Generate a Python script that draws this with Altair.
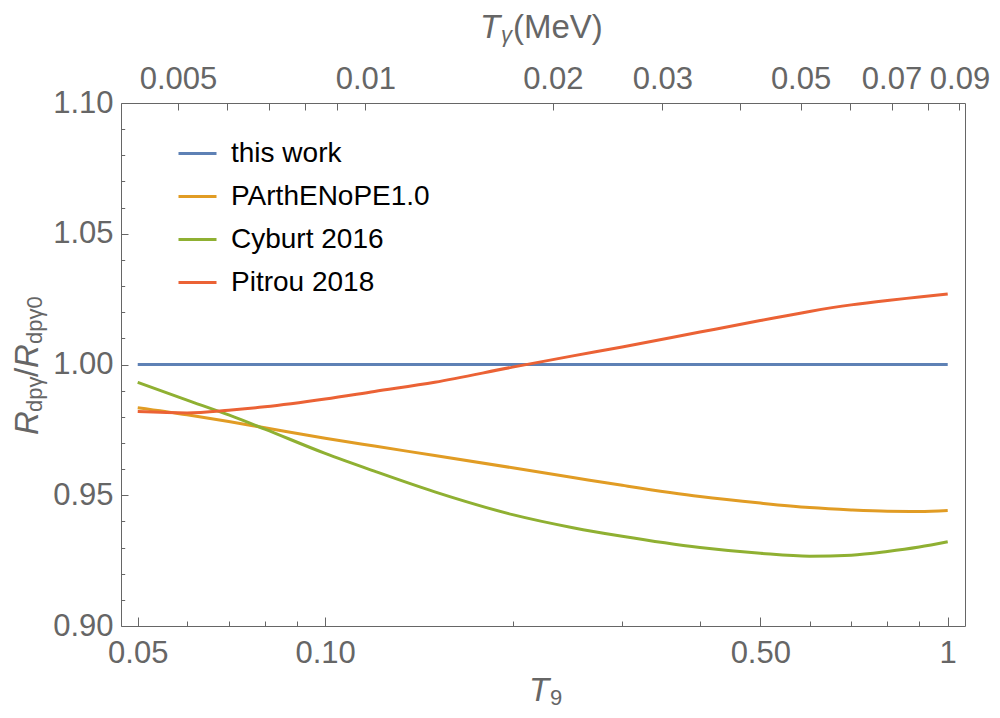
import json
import altair as alt
import pandas as pd

# ---------------- data ----------------
T9 = [0.05, 0.06, 0.07, 0.08, 0.10, 0.12, 0.15, 0.20, 0.25, 0.30,
      0.40, 0.50, 0.60, 0.70, 0.80, 0.90, 1.00]
this_work = [1.000, 1.000, 1.000, 1.000, 1.000, 1.000, 1.000, 1.000, 1.000,
             1.000, 1.000, 1.000, 1.000, 1.000, 1.000, 1.000, 1.000]
parthenope = [0.9835, 0.9808, 0.9782, 0.9758, 0.9718, 0.9688, 0.9652, 0.9605,
              0.9568, 0.9538, 0.9495, 0.9470, 0.9453, 0.9444, 0.9439, 0.9438, 0.9442]
cyburt = [0.9932, 0.9864, 0.9807, 0.9753, 0.9660, 0.9592, 0.9513, 0.9426,
          0.9376, 0.9343, 0.9300, 0.9278, 0.9267, 0.9271, 0.9285, 0.9302, 0.9322]
pitrou = [0.9820, 0.9815, 0.9825, 0.9838, 0.9868, 0.9897, 0.9932, 0.9990,
          1.0033, 1.0067, 1.0124, 1.0168, 1.0203, 1.0228, 1.0245, 1.0258, 1.0270]

series_names = ["this work", "PArthENoPE1.0", "Cyburt 2016", "Pitrou 2018"]
series_colors = ["#5E81B5", "#E19C24", "#8FB032", "#EB6235"]
series_values = [this_work, parthenope, cyburt, pitrou]

bottom_major = [0.05, 0.1, 0.5, 1.0]
bottom_minor = [0.06, 0.07, 0.08, 0.09, 0.2, 0.3, 0.4, 0.6, 0.7, 0.8, 0.9]
left_major = [0.90, 0.95, 1.00, 1.05, 1.10]
left_minor = [0.91, 0.92, 0.93, 0.94, 0.96, 0.97, 0.98, 0.99,
              1.01, 1.02, 1.03, 1.04, 1.06, 1.07, 1.08, 1.09]
top_ticks = [0.005, 0.006, 0.007, 0.008, 0.009, 0.01, 0.02, 0.03,
             0.04, 0.05, 0.06, 0.07, 0.08, 0.09]
top_labeled = [0.005, 0.01, 0.02, 0.03, 0.05, 0.07, 0.09]

MEV_PER_T9 = 0.08617          # k_B * 1e9 K in MeV
T9_DOMAIN = [0.047, 1.066]
TG_DOMAIN = [T9_DOMAIN[0] * MEV_PER_T9, T9_DOMAIN[1] * MEV_PER_T9]
Y_DOMAIN = [0.90, 1.10]

# ---------------- styling ----------------
FONT = "Liberation Sans"
GRAY = "#666666"
W, H = 844, 523
TICK_FS = 31
TITLE_FS = 33
SUB_FS = 22

rows = []
for name, vals in zip(series_names, series_values):
    for t, v in zip(T9, vals):
        rows.append({"T9": t, "R": v, "series": name})
df = pd.DataFrame(rows)

xscale = alt.Scale(type="log", domain=T9_DOMAIN, nice=False)
yscale = alt.Scale(domain=Y_DOMAIN, nice=False, zero=False)

common_axis = dict(grid=False, domain=False, title=None, labelFont=FONT,
                   labelColor=GRAY, tickColor=GRAY, tickWidth=1,
                   labelOverlap=False, labelBound=False, labelFlush=False,
                   labelFontSize=TICK_FS)

lines = alt.Chart(df).mark_line(strokeWidth=3, interpolate="monotone").encode(
    x=alt.X("T9:Q", scale=xscale,
            axis=alt.Axis(orient="bottom", values=bottom_major,
                          labelExpr="datum.value >= 1 ? '1' : format(datum.value, '.2f')",
                          tickSize=9, offset=-9, labelPadding=12, **common_axis)),
    y=alt.Y("R:Q", scale=yscale,
            axis=alt.Axis(orient="left", values=left_major, format=".2f",
                          tickSize=7, offset=-7, labelPadding=8, **common_axis)),
    color=alt.Color("series:N",
                    scale=alt.Scale(domain=series_names, range=series_colors),
                    sort=series_names,
                    legend=alt.Legend(orient="none", legendX=56, legendY=30,
                                      title=None, symbolType="stroke",
                                      symbolSize=1444, symbolStrokeWidth=3,
                                      labelFontSize=28, labelFont=FONT,
                                      labelColor="black", rowPadding=8,
                                      labelOffset=13, labelLimit=400,
                                      padding=0)),
    detail="series:N",
)

minor_x = alt.Chart(pd.DataFrame({"t": bottom_minor})).mark_point(opacity=0).encode(
    x=alt.X("t:Q", scale=xscale,
            axis=alt.Axis(orient="bottom", values=bottom_minor, labels=False,
                          tickSize=5, offset=-5, **common_axis)),
)

minor_y = alt.Chart(pd.DataFrame({"v": left_minor})).mark_point(opacity=0).encode(
    y=alt.Y("v:Q", scale=yscale,
            axis=alt.Axis(orient="left", values=left_minor, labels=False,
                          tickSize=3.7, offset=-3.7, **common_axis)),
)

top_expr = ("indexof(" + json.dumps(top_labeled) +
            ", datum.value) >= 0 ? format(datum.value, '~g') : ''")
top_axis = alt.Chart(pd.DataFrame({"tg": top_ticks})).mark_point(opacity=0).encode(
    x=alt.X("tg:Q", scale=alt.Scale(type="log", domain=TG_DOMAIN, nice=False),
            axis=alt.Axis(orient="top", values=top_ticks, labelExpr=top_expr,
                          tickSize=7, offset=-7, labelPadding=8, **common_axis)),
)


def txt(s, x, y, size, italic=False, angle=0):
    return alt.Chart(alt.Data(values=[{}])).mark_text(
        text=s, font=FONT, fontSize=size,
        fontStyle="italic" if italic else "normal",
        color=GRAY, align="left", baseline="alphabetic", angle=angle,
    ).encode(x=alt.value(x), y=alt.value(y))


# axis titles built from pieces (italic symbols with subscripts)
titles = [
    # bottom: T_9
    txt("T", 408, 598, TITLE_FS, italic=True),
    txt("9", 429, 602, SUB_FS),
    # top: T_gamma (MeV)
    txt("T", 359, -65, TITLE_FS, italic=True),
    txt("\u03b3", 380, -61, SUB_FS, italic=True),
    txt("(MeV)", 392, -65, TITLE_FS),
    # left: R_dpg / R_dpg0 (rotated)
    txt("R", -83, 332, TITLE_FS, italic=True, angle=270),
    txt("dp\u03b3", -79, 309, SUB_FS, angle=270),
    txt("/", -83, 274, TITLE_FS, angle=270),
    txt("R", -83, 265, TITLE_FS, italic=True, angle=270),
    txt("dp\u03b30", -79, 241, SUB_FS, angle=270),
]

chart = alt.layer(minor_x, minor_y, top_axis, lines, *titles).resolve_scale(
    x="independent", y="independent"
).resolve_axis(
    x="independent", y="independent"
).properties(
    width=W, height=H, autosize="none",
    padding={"left": 113, "top": 95, "right": 27, "bottom": 84},
    background="white",
).configure_view(stroke=GRAY, strokeWidth=1)

chart.save("out.html", embed_options={"renderer": "svg", "actions": False})
